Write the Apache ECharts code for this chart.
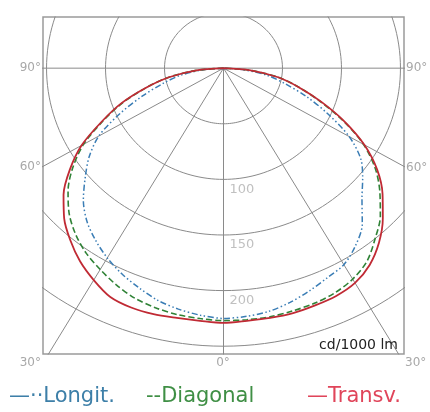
<!DOCTYPE html>
<html><head><meta charset="utf-8">
<script src="https://cdn.jsdelivr.net/npm/echarts@6/dist/echarts.min.js"></script>
<style>html,body{margin:0;padding:0;background:#fff}#c{width:430px;height:412px}</style>
</head><body><div id="c"></div>
<script>
// Gamma angles (deg, 0 = straight down, negative = left half)
const angles = [-90,-85,-80,-75,-70,-65,-60,-55,-50,-45,-40,-35,-30,-25,-20,-15,-10,-5,0,5,10,15,20,25,30,35,40,45,50,55,60,65,70,75,80,85,90];
// Luminous intensity, cd/1000 lm
const longit   = [0,18,37,53,73,97,122,139,153,168,180,189,197,204,210,216,220,223,225,224,222,218,213,208,204,195,183,166,154,142,123,98,75,54,38,18,0];
const diagonal = [0,23,47,68,91,113,137,156,172,185,195,203,209,215,220,223,225,226,227,227,227,226,225,223,219,212,200,188,173,157,137,112,87,66,47,23,0];
const transv   = [0,23,47,68,92,114,139,159,177,191,202,212,220,227,229,229,228,228,229,228,228,228,227,226,223,216,205,191,176,159,138,113,88,66,47,23,0];
const ringValues = [50,100,150,200,250];
const ringLabels = [100,150,200];
const rayAngles = [-90,-60,-30,0,30,60,90];
const seriesNames = ['Longit.','Diagonal','Transv.'];

const FONT = 'DejaVu Sans';
const rad = d => d * Math.PI / 180;
const toXY = (a, v) => [v * Math.sin(rad(a)), -v * Math.cos(rad(a))];

const gridColor = '#8a8a8a';
const series = [];
ringValues.forEach(r => {
  const pts = [];
  for (let a = 0; a <= 360; a += 2) pts.push(toXY(a, r));
  series.push({type:'line', data:pts, showSymbol:false, silent:true, z:1,
    lineStyle:{color:gridColor, width:1}});
});
rayAngles.forEach(a => {
  series.push({type:'line', data:[[0,0], toXY(a, 600)], showSymbol:false, silent:true, z:1,
    lineStyle:{color:gridColor, width:1}});
});
series.push({type:'scatter', symbolSize:0, silent:true, z:2,
  data: ringLabels.map(v => [0, -v]),
  label:{show:true, position:'right', distance:6, offset:[0,10], formatter: p => String(-p.value[1]),
    color:'#b0b0b0', fontSize:13, fontFamily:FONT}});

const styles = [
  {values:longit, color:'#3a7db5', type:[6,2.5,1.5,2.5,1.5,2.5], width:1.5},
  {values:diagonal, color:'#2f8236', type:[6,3], width:1.6},
  {values:transv, color:'#c02a34', type:'solid', width:1.8}
];
styles.forEach((s, i) => {
  series.push({name:seriesNames[i], type:'line', z:3, showSymbol:false, smooth:0.3, silent:true,
    data: angles.map((a, k) => toXY(a, s.values[k])),
    lineStyle:{color:s.color, width:s.width, type:s.type}, itemStyle:{color:s.color}});
});

const legendColors = ['#3d7fa8','#3f8f45','#e0455a'];
const legendPrefix = ['—··','--','—'];
const legendLeft = [4, 141, 302];
const legends = seriesNames.map((n, i) => ({
  data:[{name:n, icon:'none'}], left:legendLeft[i], top:386, padding:0,
  itemWidth:0, itemHeight:14, selectedMode:false,
  formatter: name => legendPrefix[i] + name,
  textStyle:{color:legendColors[i], fontSize:21, fontFamily:FONT}
}));

const degColor = '#a8a8a8';
const degText = (txt, x, y, align) => ({type:'text', x, y, silent:true,
  style:{text:txt, fill:degColor, font:'12px "DejaVu Sans"', align, verticalAlign:'middle'}});

const chart = echarts.init(document.getElementById('c'), null, {renderer:'canvas'});
chart.setOption({
  animation:false,
  backgroundColor:'#ffffff',
  grid:{left:43, top:17, width:361, height:337, show:true, borderColor:'#9a9a9a', borderWidth:1.5, backgroundColor:'transparent'},
  xAxis:{type:'value', min:-153, max:153, show:false},
  yAxis:{type:'value', min:-257, max:46, show:false},
  legend: legends,
  series,
  graphic:[
    degText('90°', 41, 68, 'right'),
    degText('60°', 41, 167, 'right'),
    degText('30°', 41, 363, 'right'),
    degText('0°', 223, 363, 'center'),
    degText('90°', 406, 68, 'left'),
    degText('60°', 406, 168, 'left'),
    degText('30°', 405, 363, 'left'),
    {type:'text', x:398, y:345, silent:true, z:10,
      style:{text:'cd/1000 lm', fill:'#222', font:'14px "DejaVu Sans"', align:'right', verticalAlign:'middle'}}
  ]
});
</script></body></html>
